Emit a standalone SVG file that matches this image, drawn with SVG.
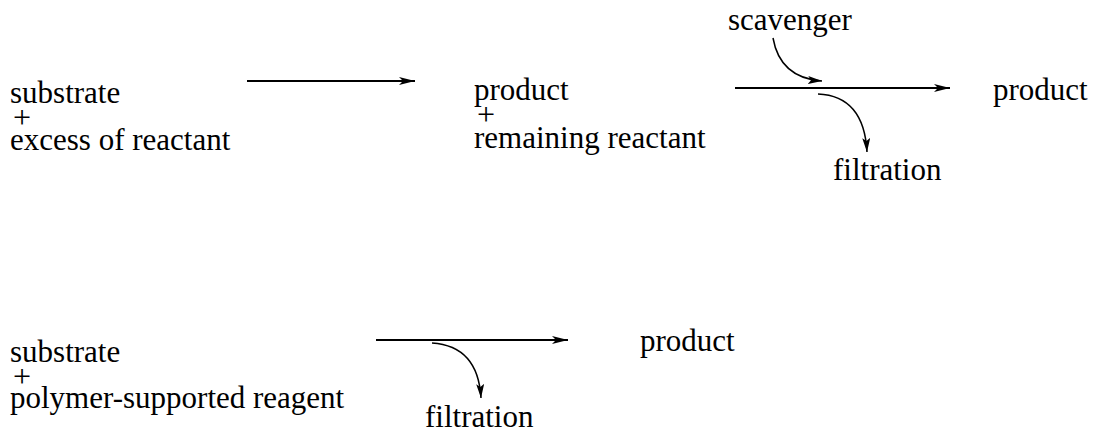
<svg xmlns="http://www.w3.org/2000/svg" width="1094" height="432" viewBox="0 0 1094 432">
  <style>
    text { font-family: "Liberation Serif", "Times New Roman", serif; font-size: 31px; fill: #000; }
    .plus { font-size: 32px; }
    .line { stroke: #000; stroke-width: 2; fill: none; }
    .curve { stroke: #000; stroke-width: 1.5; fill: none; }
  </style>
  <defs>
    <marker id="head" viewBox="0 0 16 8" refX="16" refY="4" markerWidth="16" markerHeight="8" markerUnits="userSpaceOnUse" orient="auto">
      <path d="M0,0 L16,4 L0,8 L4,4 Z" fill="#000"/>
    </marker>
    <marker id="headSmall" viewBox="0 0 14 8" refX="14" refY="4" markerWidth="14" markerHeight="8" markerUnits="userSpaceOnUse" orient="auto">
      <path d="M0,0 L14,4 L0,8 L3,4 Z" fill="#000"/>
    </marker>
  </defs>

  <!-- first scheme: excess reactant, then scavenger -->
  <g id="start-mixture">
    <text x="10" y="103">substrate</text>
    <text class="plus" x="13" y="128">+</text>
    <text x="10" y="150">excess of reactant</text>
  </g>
  <g id="crude-mixture">
    <text x="474" y="100">product</text>
    <text class="plus" x="477" y="125">+</text>
    <text x="474" y="148">remaining reactant</text>
  </g>
  <g id="scavenger">
    <text x="728" y="30">scavenger</text>
  </g>
  <g id="filtration-1">
    <text x="833" y="180">filtration</text>
  </g>
  <g id="product-1">
    <text x="993" y="100">product</text>
  </g>

  <!-- second scheme: polymer-supported reagent -->
  <g id="start-supported">
    <text x="10" y="362">substrate</text>
    <text class="plus" x="13" y="387">+</text>
    <text x="10" y="408">polymer-supported reagent</text>
  </g>
  <g id="filtration-2">
    <text x="425" y="427">filtration</text>
  </g>
  <g id="product-2">
    <text x="640" y="351">product</text>
  </g>

  <g id="connectors">
    <path class="line" d="M247,81 H415" marker-end="url(#head)"/>
    <path class="line" d="M735,88 H950" marker-end="url(#head)"/>
    <path class="curve" d="M773,38 Q780,78 822,81" marker-end="url(#headSmall)"/>
    <path class="curve" d="M818,94 Q864,96 867,152" marker-end="url(#headSmall)"/>
    <path class="line" d="M376,340 H568" marker-end="url(#head)"/>
    <path class="curve" d="M432,343 Q478,346 481,398" marker-end="url(#headSmall)"/>
  </g>
</svg>
